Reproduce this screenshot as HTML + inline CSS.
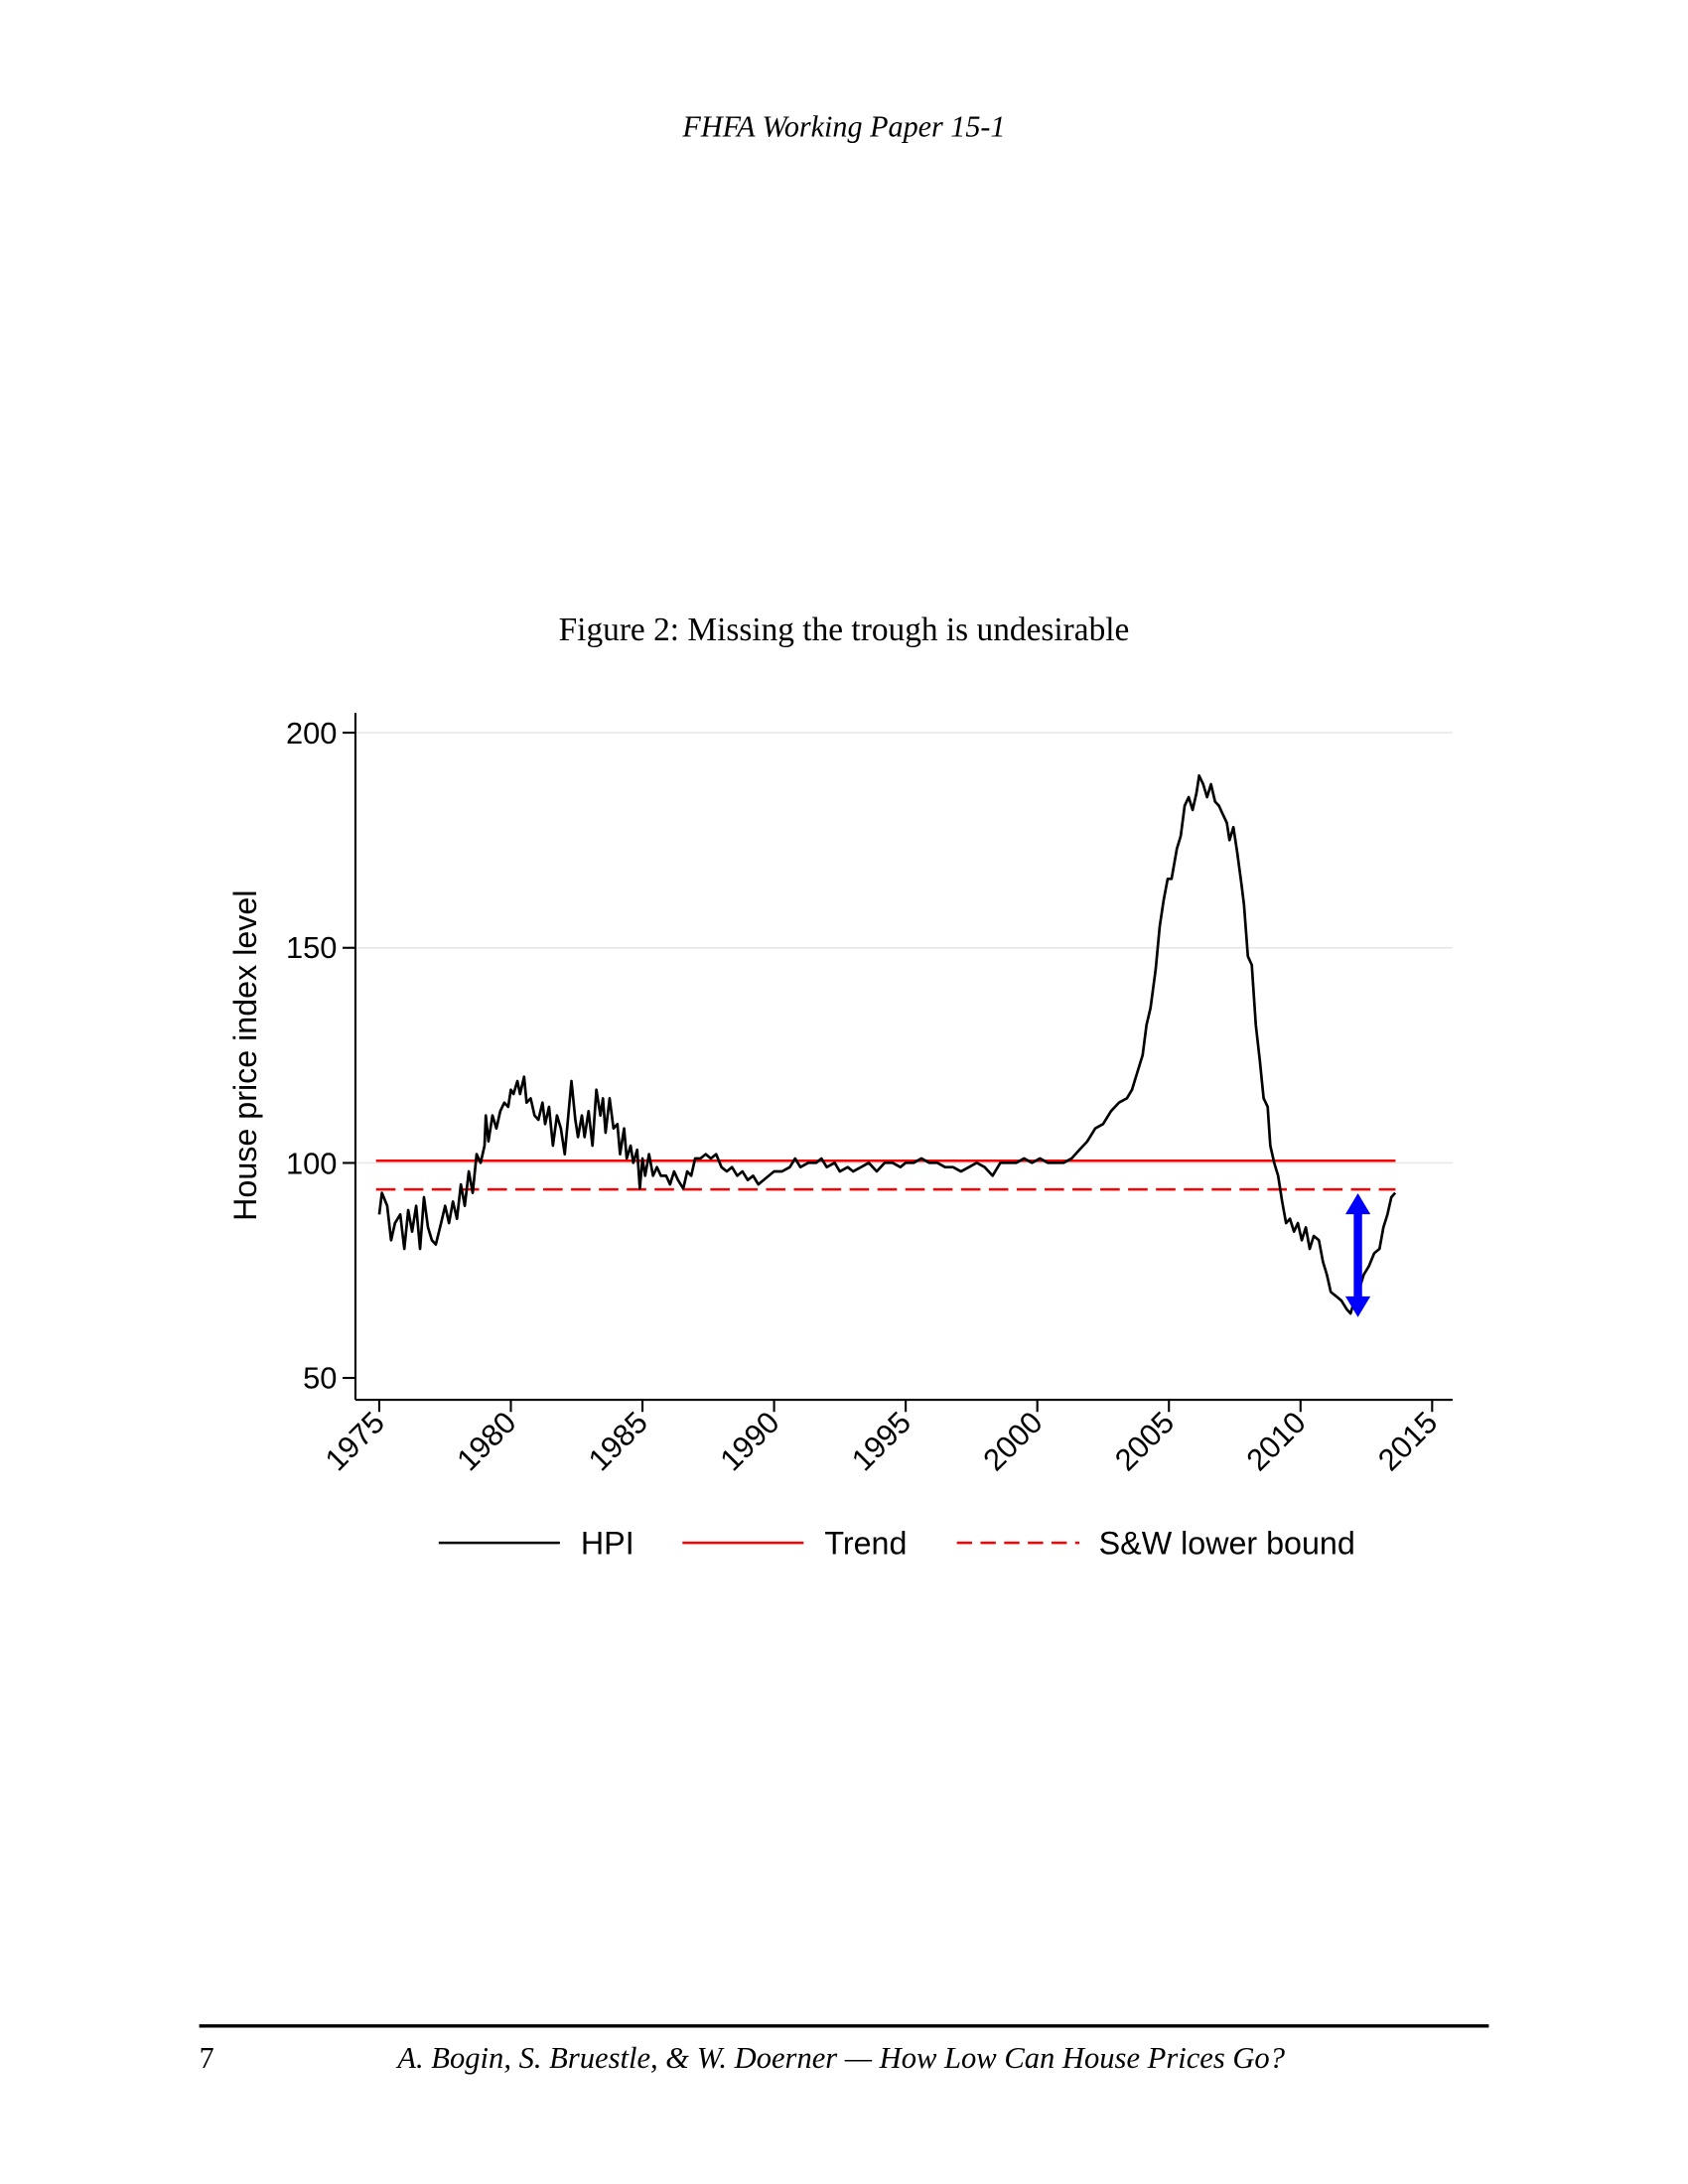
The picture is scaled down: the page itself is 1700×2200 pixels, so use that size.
<!DOCTYPE html>
<html><head><meta charset="utf-8"><style>
html,body{margin:0;padding:0;background:#fff;}
svg{display:block;}
</style></head><body>
<svg id="s" width="1700" height="2200" viewBox="0 0 1212 1568.5" xmlns="http://www.w3.org/2000/svg">
<text x="606" y="98" text-anchor="middle" font-family="Liberation Serif, serif" font-style="italic" font-size="21.5">FHFA Working Paper 15-1</text>
<text x="606" y="460" text-anchor="middle" font-family="Liberation Serif, serif" font-size="23.8">Figure 2: Missing the trough is undesirable</text>
<g stroke="#e8e8e8" stroke-width="1.2">
<line x1="256" x2="1043" y1="526.2" y2="526.2"/>
<line x1="256" x2="1043" y1="680.7" y2="680.7"/>
<line x1="256" x2="1043" y1="835.2" y2="835.2"/>
</g>
<g stroke="#000" stroke-width="1.5" fill="none">
<line x1="255.2" y1="512" x2="255.2" y2="1005.3"/>
<line x1="255.2" y1="1005.3" x2="1043" y2="1005.3"/>
<line x1="246" x2="255.2" y1="526.2" y2="526.2"/>
<line x1="246" x2="255.2" y1="680.7" y2="680.7"/>
<line x1="246" x2="255.2" y1="835.2" y2="835.2"/>
<line x1="246" x2="255.2" y1="989.6" y2="989.6"/>
<g id="xt"></g>
</g>
<g font-family="Liberation Sans, sans-serif" font-size="22" text-anchor="end">
<text x="242" y="534">200</text>
<text x="242" y="688">150</text>
<text x="242" y="843">100</text>
<text x="242" y="997">50</text>
</g>
<g id="xl" font-family="Liberation Sans, sans-serif" font-size="22" text-anchor="end"></g>
<text transform="translate(184,758) rotate(-90)" text-anchor="middle" font-family="Liberation Sans, sans-serif" font-size="23">House price index level</text>
<line x1="270" x2="1002" y1="833.6" y2="833.6" stroke="#f00" stroke-width="1.8"/>
<line x1="270" x2="1002" y1="854.2" y2="854.2" stroke="#f00" stroke-width="1.8" stroke-dasharray="14,6"/>
<path id="hpi" fill="none" stroke="#000" stroke-width="1.9" stroke-linejoin="round"/>
<g fill="#00f" stroke="none">
<rect x="972" y="868" width="6" height="68"/>
<polygon points="975,857 966,872 984,872"/>
<polygon points="975,946 966,931 984,931"/>
</g>
<line x1="315" x2="402" y1="1108" y2="1108" stroke="#000" stroke-width="1.8"/>
<text x="417" y="1116" font-family="Liberation Sans, sans-serif" font-size="23">HPI</text>
<line x1="490" x2="577" y1="1108" y2="1108" stroke="#f00" stroke-width="1.8"/>
<text x="592" y="1116" font-family="Liberation Sans, sans-serif" font-size="23">Trend</text>
<line x1="687" x2="775" y1="1108" y2="1108" stroke="#f00" stroke-width="1.8" stroke-dasharray="11,6"/>
<text x="789" y="1116" font-family="Liberation Sans, sans-serif" font-size="23">S&amp;W lower bound</text>
<line x1="143" x2="1069" y1="1455" y2="1455" stroke="#000" stroke-width="2.4"/>
<text x="143" y="1485" font-family="Liberation Serif, serif" font-size="21.5">7</text>
<text x="604" y="1485" text-anchor="middle" font-family="Liberation Serif, serif" font-style="italic" font-size="21.8">A. Bogin, S. Bruestle, &amp; W. Doerner — How Low Can House Prices Go?</text>
</svg>
<script>
var X=function(y){return 272.3+(y-1975)*18.9;},Y=function(v){return 989.6-(v-50)*3.0898;};
var ns="http://www.w3.org/2000/svg",xt=document.getElementById("xt"),xl=document.getElementById("xl");
for(var yr=1975;yr<=2015;yr+=5){var x=X(yr);var l=document.createElementNS(ns,"line");l.setAttribute("x1",x);l.setAttribute("x2",x);l.setAttribute("y1",1005.3);l.setAttribute("y2",1014);xt.appendChild(l);
var t=document.createElementNS(ns,"text");t.setAttribute("transform","translate("+(x+5)+",1023) rotate(-45)");t.textContent=yr;xl.appendChild(t);}
var d=[[1975,88],[1975.1,93],[1975.3,90],[1975.45,82],[1975.6,86],[1975.8,88],[1975.95,80],[1976.1,89],[1976.25,84],[1976.4,90],[1976.55,80],[1976.7,92],[1976.85,85],[1977,82],[1977.15,81],[1977.35,86],[1977.5,90],[1977.65,86],[1977.8,91],[1977.95,87],[1978.1,95],[1978.25,90],[1978.4,98],[1978.55,93],[1978.7,102],[1978.85,100],[1979,104],[1979.05,111],[1979.15,105],[1979.3,111],[1979.45,108],[1979.6,112],[1979.75,114],[1979.9,113],[1980,117],[1980.1,116],[1980.25,119],[1980.35,116],[1980.5,120],[1980.6,114],[1980.75,115],[1980.9,111],[1981.05,110],[1981.2,114],[1981.3,109],[1981.45,113],[1981.6,104],[1981.75,111],[1981.9,108],[1982.05,102],[1982.3,119],[1982.45,110],[1982.55,106],[1982.7,111],[1982.8,106],[1982.95,112],[1983.1,104],[1983.25,117],[1983.4,111],[1983.5,115],[1983.6,107],[1983.75,115],[1983.9,108],[1984.05,109],[1984.15,102],[1984.3,108],[1984.4,101],[1984.55,104],[1984.65,100],[1984.8,103],[1984.9,94],[1985.0,101],[1985.1,97],[1985.25,102],[1985.4,97],[1985.55,99],[1985.7,97],[1985.9,97],[1986.05,95],[1986.2,98],[1986.35,96],[1986.55,94],[1986.7,98],[1986.85,97],[1987,101],[1987.2,101],[1987.4,102],[1987.6,101],[1987.8,102],[1988,99],[1988.2,98],[1988.4,99],[1988.6,97],[1988.8,98],[1989,96],[1989.2,97],[1989.4,95],[1989.6,96],[1989.8,97],[1990,98],[1990.3,98],[1990.6,99],[1990.8,101],[1991,99],[1991.3,100],[1991.6,100],[1991.8,101],[1992,99],[1992.3,100],[1992.5,98],[1992.8,99],[1993,98],[1993.3,99],[1993.6,100],[1993.9,98],[1994.2,100],[1994.5,100],[1994.8,99],[1995,100],[1995.3,100],[1995.6,101],[1995.9,100],[1996.2,100],[1996.5,99],[1996.8,99],[1997.1,98],[1997.4,99],[1997.7,100],[1998,99],[1998.3,97],[1998.6,100],[1998.9,100],[1999.2,100],[1999.5,101],[1999.8,100],[2000.1,101],[2000.4,100],[2000.7,100],[2001,100],[2001.3,101],[2001.6,103],[2001.9,105],[2002.2,108],[2002.5,109],[2002.8,112],[2003.1,114],[2003.4,115],[2003.6,117],[2003.8,121],[2004,125],[2004.15,132],[2004.3,136],[2004.5,145],[2004.65,155],[2004.8,161],[2004.95,166],[2005.1,166],[2005.3,173],[2005.45,176],[2005.6,183],[2005.75,185],[2005.9,182],[2006.05,186],[2006.15,190],[2006.3,188],[2006.45,185],[2006.6,188],[2006.75,184],[2006.9,183],[2007.05,181],[2007.2,179],[2007.3,175],[2007.45,178],[2007.6,172],[2007.75,165],[2007.85,160],[2008,148],[2008.15,146],[2008.3,132],[2008.45,124],[2008.6,115],[2008.75,113],[2008.85,104],[2009,100],[2009.15,97],[2009.3,91],[2009.45,86],[2009.6,87],[2009.75,84],[2009.9,86],[2010.05,82],[2010.2,85],[2010.35,80],[2010.5,83],[2010.7,82],[2010.85,77],[2011,74],[2011.15,70],[2011.35,69],[2011.55,68],[2011.75,66],[2011.9,65],[2012.05,68],[2012.25,71],[2012.4,74],[2012.6,76],[2012.8,79],[2013,80],[2013.15,85],[2013.3,88],[2013.45,92],[2013.6,93]];
var p="";for(var i=0;i<d.length;i++){p+=(i?"L":"M")+X(d[i][0]).toFixed(1)+","+Y(d[i][1]).toFixed(1);}
document.getElementById("hpi").setAttribute("d",p);
</script>
</body></html>
